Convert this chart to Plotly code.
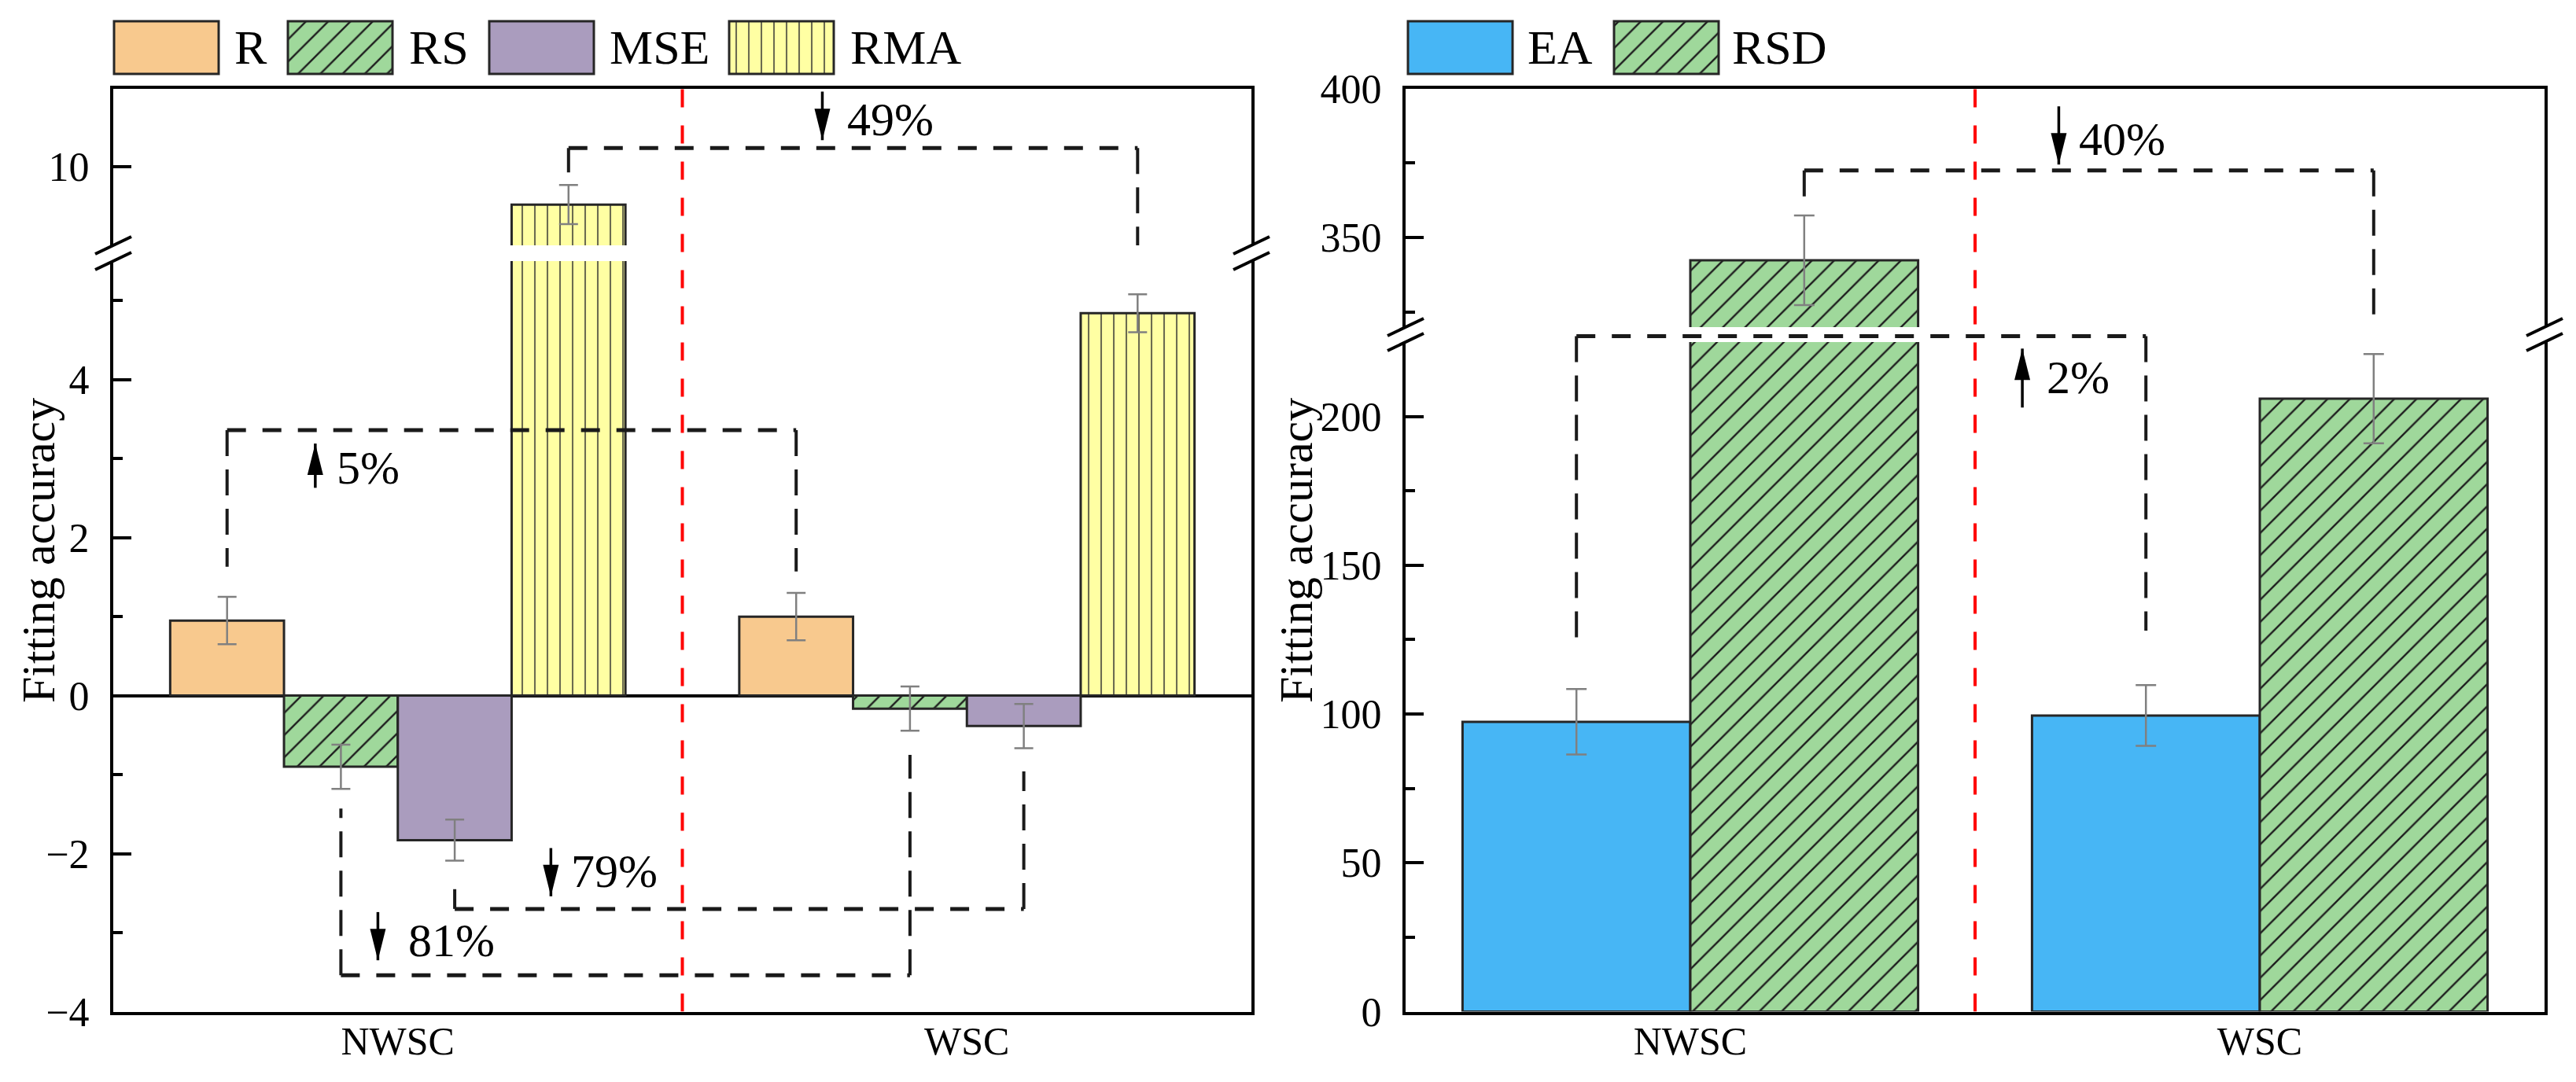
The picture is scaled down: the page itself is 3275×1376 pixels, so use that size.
import plotly.graph_objects as go

# ------------------------------------------------------------------ data
categories = ["NWSC", "WSC"]
cat_pos = [0, 1]

left_names = ["R", "RS", "MSE", "RMA"]
R_vals = [0.95, 1.00]
R_err = [0.30, 0.30]
RS_vals = [-0.90, -0.165]
RS_err = [0.28, 0.28]
MSE_vals = [-1.83, -0.385]
MSE_err = [0.26, 0.28]
RMA_vals = [9.52, 4.84]
RMA_err = [0.25, 0.24]

right_names = ["EA", "RSD"]
EA_vals = [97.4, 99.5]
EA_err = [11.0, 10.2]
RSD_vals = [342.4, 206.0]
RSD_err = [15.0, 15.0]

left_lower_ticks = [-4, -2, 0, 2, 4]
left_lower_minor = [-3, -1, 1, 3, 5]
left_upper_ticks = [10]
right_lower_ticks = [0, 50, 100, 150, 200]
right_lower_minor = [25, 75, 125, 175]
right_upper_ticks = [350, 400]
right_upper_minor = [325, 375]

left_lower_range = [-4, 5.5]
left_upper_range = [9, 11]
right_lower_range = [0, 225]
right_upper_range = [320, 400]

y_title = "Fitting accuracy"

# percent-change brackets (annotation geometry in data units)
left_brackets = [
    dict(series=0, seg="lower", level=3.36, ends=[1.63, 1.57], ax=-0.145, tail=2.63, tip=3.19, text="5%", tx=-0.11, ty=2.88),
    dict(series=1, seg="lower", level=-3.54, ends=[-1.43, -0.75], ax=-0.035, tail=-2.74, tip=-3.35, text="81%", tx=0.015, ty=-3.10),
    dict(series=2, seg="lower", level=-2.70, ends=[-2.45, -0.96], ax=0.269, tail=-1.93, tip=-2.54, text="79%", tx=0.302, ty=-2.22),
    dict(series=3, seg="upper", level=10.24, ends=[9.93, 9.0], ax=0.746, tail=10.96, tip=10.34, text="49%", tx=0.787, ty=10.60),
]
right_brackets = [
    dict(series=0, seg="ext", level=227.0, ends=[123, 128], ax=0.583, tail=203, tip=222.8, text="2%", tx=0.623, ty=213),
    dict(series=1, seg="upper", level=372.5, ends=[363, 320], ax=0.647, tail=394, tip=374.5, text="40%", tx=0.679, ty=383),
]

# ------------------------------------------------------------------ styles / layout
W, H = 3275, 1376
FONT = "Liberation Serif, Times New Roman, serif"
BARGAP = 0.2
OUTLINE = "#262626"

STYLE = {
    "R": dict(color="#F8C98E", pattern=None),
    "RS": dict(color="#9FD89B", pattern=dict(shape="/", size=20, solidity=0.12, fgcolor="#1e1e1e")),
    "MSE": dict(color="#AA9CBE", pattern=None),
    "RMA": dict(color="#FFFFA3", pattern=dict(shape="|", size=16, solidity=0.13, fgcolor="#6b6b50")),
    "EA": dict(color="#47B6F5", pattern=None),
    "RSD": dict(color="#9FD89B", pattern=dict(shape="/", size=20, solidity=0.12, fgcolor="#1e1e1e")),
}


def px_x(p):
    return p / W


def px_y(p):
    return 1 - p / H


# panel geometry (pixels of the reference)
LX = [px_x(144), px_x(1591)]
RX = [px_x(1787), px_x(3235)]
L_LOW = [px_y(1286.5), px_y(332)]
L_UP = [px_y(312), px_y(112.5)]
R_LOW = [px_y(1286.5), px_y(435)]
R_UP = [px_y(416), px_y(112.5)]

LEG_BOX_W = 133
LEG_TOP, LEG_BOT = 27, 94
LEG_LEFT_BOX = [145, 366, 622, 927]
LEG_LEFT_TEXT = [296, 518, 773, 1079]
LEG_RIGHT_BOX = [1790, 2052]
LEG_RIGHT_TEXT = [1940, 2200]


def marker(name):
    st = STYLE[name]
    m = dict(color=st["color"], line=dict(color=OUTLINE, width=3))
    if st["pattern"]:
        p = dict(st["pattern"])
        p["bgcolor"] = st["color"]
        p["fillmode"] = "replace"
        m["pattern"] = p
    return m


def offsets(n):
    group = 1 - BARGAP
    w = group / n
    return [-group / 2 + w * (i + 0.5) for i in range(n)]


def ext_range(low_rng, low_dom, full_dom):
    span = (low_rng[1] - low_rng[0]) * (full_dom[1] - full_dom[0]) / (low_dom[1] - low_dom[0])
    return [low_rng[0], low_rng[0] + span]


fig = go.Figure()

left_data = [(R_vals, R_err), (RS_vals, RS_err), (MSE_vals, MSE_err), (RMA_vals, RMA_err)]
right_data = [(EA_vals, EA_err), (RSD_vals, RSD_err)]

for names, data, axes, capw in [
    (left_names, left_data, [("x", "y"), ("x2", "y2")], 12),
    (right_names, right_data, [("x3", "y3"), ("x4", "y4")], 13),
]:
    for xa, ya in axes:
        for name, (vals, errs) in zip(names, data):
            fig.add_trace(go.Bar(
                x=cat_pos, y=vals, name=name, xaxis=xa, yaxis=ya,
                marker=marker(name),
                error_y=dict(type="data", array=errs, color="#808080", thickness=2.5, width=capw),
                showlegend=False, hoverinfo="skip",
            ))

# ------------------------------------------------------------------ brackets
H_DASH = dict(color="#1a1a1a", width=5, dash="24px,21px")
V_DASH = dict(color="#1a1a1a", width=4, dash="33px,17px")

shapes = []
annotations = []


def add_brackets(brackets, n, seg_axes, xa):
    offs = offsets(n)
    for b in brackets:
        ya = seg_axes[b["seg"]]
        x0 = cat_pos[0] + offs[b["series"]]
        x1 = cat_pos[1] + offs[b["series"]]
        fig.add_trace(go.Scatter(x=[x0, x1], y=[b["level"], b["level"]], mode="lines",
                                 line=H_DASH, xaxis=xa, yaxis=ya, showlegend=False, hoverinfo="skip"))
        fig.add_trace(go.Scatter(x=[x0, x0, None, x1, x1],
                                 y=[b["level"], b["ends"][0], None, b["level"], b["ends"][1]],
                                 mode="lines", line=V_DASH, xaxis=xa, yaxis=ya,
                                 showlegend=False, hoverinfo="skip"))
        shapes.append(dict(type="line", xref=xa, yref=ya, x0=b["ax"], x1=b["ax"],
                           y0=b["tail"], y1=b["tip"], line=dict(color="black", width=3.5)))
        down = b["tip"] < b["tail"]
        hl = 40 if down else -40
        shapes.append(dict(type="path", xref=xa, yref=ya, xsizemode="pixel", ysizemode="pixel",
                           xanchor=b["ax"], yanchor=b["tip"],
                           path=f"M-10,{hl} L10,{hl} L0,0 Z", fillcolor="black",
                           line=dict(width=0)))
        annotations.append(dict(text=b["text"], x=b["tx"], y=b["ty"], xref=xa, yref=ya,
                                xanchor="left", yanchor="middle", showarrow=False,
                                font=dict(family=FONT, size=60, color="black")))


add_brackets(left_brackets, len(left_names), {"lower": "y", "upper": "y2", "ext": "y5"}, "x")
add_brackets(right_brackets, len(right_names), {"lower": "y3", "upper": "y4", "ext": "y6"}, "x3")

mid = (cat_pos[0] + cat_pos[1]) / 2
L_EXT = ext_range(left_lower_range, L_LOW, [L_LOW[0], L_UP[1]])
R_EXT = ext_range(right_lower_range, R_LOW, [R_LOW[0], R_UP[1]])
for xa, ya, rng in [("x", "y5", L_EXT), ("x3", "y6", R_EXT)]:
    fig.add_trace(go.Scatter(x=[mid, mid], y=rng, mode="lines",
                             line=dict(color="#FF0000", width=4, dash="23px,23px"),
                             xaxis=xa, yaxis=ya, showlegend=False, hoverinfo="skip"))

# ------------------------------------------------------------------ legend (custom boxes)
for names, boxes, texts in [(left_names, LEG_LEFT_BOX, LEG_LEFT_TEXT), (right_names, LEG_RIGHT_BOX, LEG_RIGHT_TEXT)]:
    for name, bx, tx in zip(names, boxes, texts):
        fig.add_trace(go.Bar(x=[bx + LEG_BOX_W / 2], y=[1], width=[LEG_BOX_W], offset=-LEG_BOX_W / 2,
                             marker=marker(name), xaxis="x5", yaxis="y7",
                             showlegend=False, hoverinfo="skip"))
        annotations.append(dict(text=name, x=px_x(tx), y=px_y((LEG_TOP + LEG_BOT) / 2),
                                xref="paper", yref="paper", xanchor="left", yanchor="middle",
                                showarrow=False, font=dict(family=FONT, size=62, color="black")))

for xc in [49, 1648]:
    annotations.append(dict(text=y_title, x=px_x(xc), y=px_y(700), xref="paper", yref="paper",
                            textangle=-90, xanchor="center", yanchor="middle", showarrow=False,
                            font=dict(family=FONT, size=60, color="black")))

for xs, ys_pair in [(LX, [L_UP[0], L_LOW[1]]), (RX, [R_UP[0], R_LOW[1]])]:
    for ys in ys_pair:
        for xv in xs:
            shapes.append(dict(type="line", xref="paper", yref="paper",
                               xsizemode="pixel", ysizemode="pixel", xanchor=xv, yanchor=ys,
                               x0=-23, x1=23, y0=-11, y1=11,
                               line=dict(color="black", width=4)))


def yax(domain, rng, ticks, minor, anchor, zero=False):
    d = dict(domain=domain, range=rng, anchor=anchor, tickmode="array", tickvals=ticks,
             ticks="inside", ticklen=23, tickwidth=4, tickcolor="black",
             showline=True, mirror=True, linewidth=4, linecolor="black",
             showgrid=False, zeroline=zero, zerolinecolor="black", zerolinewidth=4,
             tickfont=dict(family=FONT, size=52, color="black"), ticklabelstandoff=16,
             automargin=False, fixedrange=True)
    if minor:
        d["minor"] = dict(tickmode="array", tickvals=minor, ticks="inside", ticklen=12,
                          tickwidth=4, tickcolor="black", showgrid=False)
    return d


def xax(domain, anchor, bottom=True, match=None):
    d = dict(domain=domain, range=[-0.5, 1.5], anchor=anchor, showline=True, linewidth=4,
             linecolor="black", showgrid=False, zeroline=False, ticks="",
             automargin=False, fixedrange=True)
    if bottom:
        d.update(tickmode="array", tickvals=cat_pos, ticktext=categories,
                 tickfont=dict(family=FONT, size=50, color="black"), ticklabelstandoff=-10)
    else:
        d.update(side="top", showticklabels=False, matches=match)
    return d


def hidden(**kw):
    d = dict(visible=False, fixedrange=True, automargin=False, showgrid=False, zeroline=False)
    d.update(kw)
    return d


fig.update_layout(
    template="none",
    width=W, height=H, autosize=False,
    margin=dict(l=0, r=0, t=0, b=0, pad=0, autoexpand=False),
    paper_bgcolor="white", plot_bgcolor="rgba(0,0,0,0)",
    barmode="group", bargap=BARGAP, bargroupgap=0,
    showlegend=False, hovermode=False,
    font=dict(family=FONT, color="black"),
    xaxis=xax(LX, "y"),
    xaxis2=xax(LX, "y2", bottom=False, match="x"),
    xaxis3=xax(RX, "y3"),
    xaxis4=xax(RX, "y4", bottom=False, match="x3"),
    xaxis5=hidden(domain=[0, 1], range=[0, W], anchor="y7"),
    yaxis=yax(L_LOW, left_lower_range, left_lower_ticks, left_lower_minor, "x", zero=True),
    yaxis2=yax(L_UP, left_upper_range, left_upper_ticks, None, "x2"),
    yaxis3=yax(R_LOW, right_lower_range, right_lower_ticks, right_lower_minor, "x3"),
    yaxis4=yax(R_UP, right_upper_range, right_upper_ticks, right_upper_minor, "x4"),
    yaxis5=hidden(domain=[L_LOW[0], L_UP[1]], range=L_EXT, anchor="x"),
    yaxis6=hidden(domain=[R_LOW[0], R_UP[1]], range=R_EXT, anchor="x3"),
    yaxis7=hidden(domain=[px_y(LEG_BOT + 0.1 * (LEG_BOT - LEG_TOP)), px_y(LEG_TOP - 0.1 * (LEG_BOT - LEG_TOP))],
                  range=[-0.1, 1.1], anchor="x5"),
    shapes=shapes,
    annotations=annotations,
)

fig.write_html("out.html", config={"displayModeBar": False},
               post_script="document.body.style.margin='0';document.body.style.overflow='hidden';")
